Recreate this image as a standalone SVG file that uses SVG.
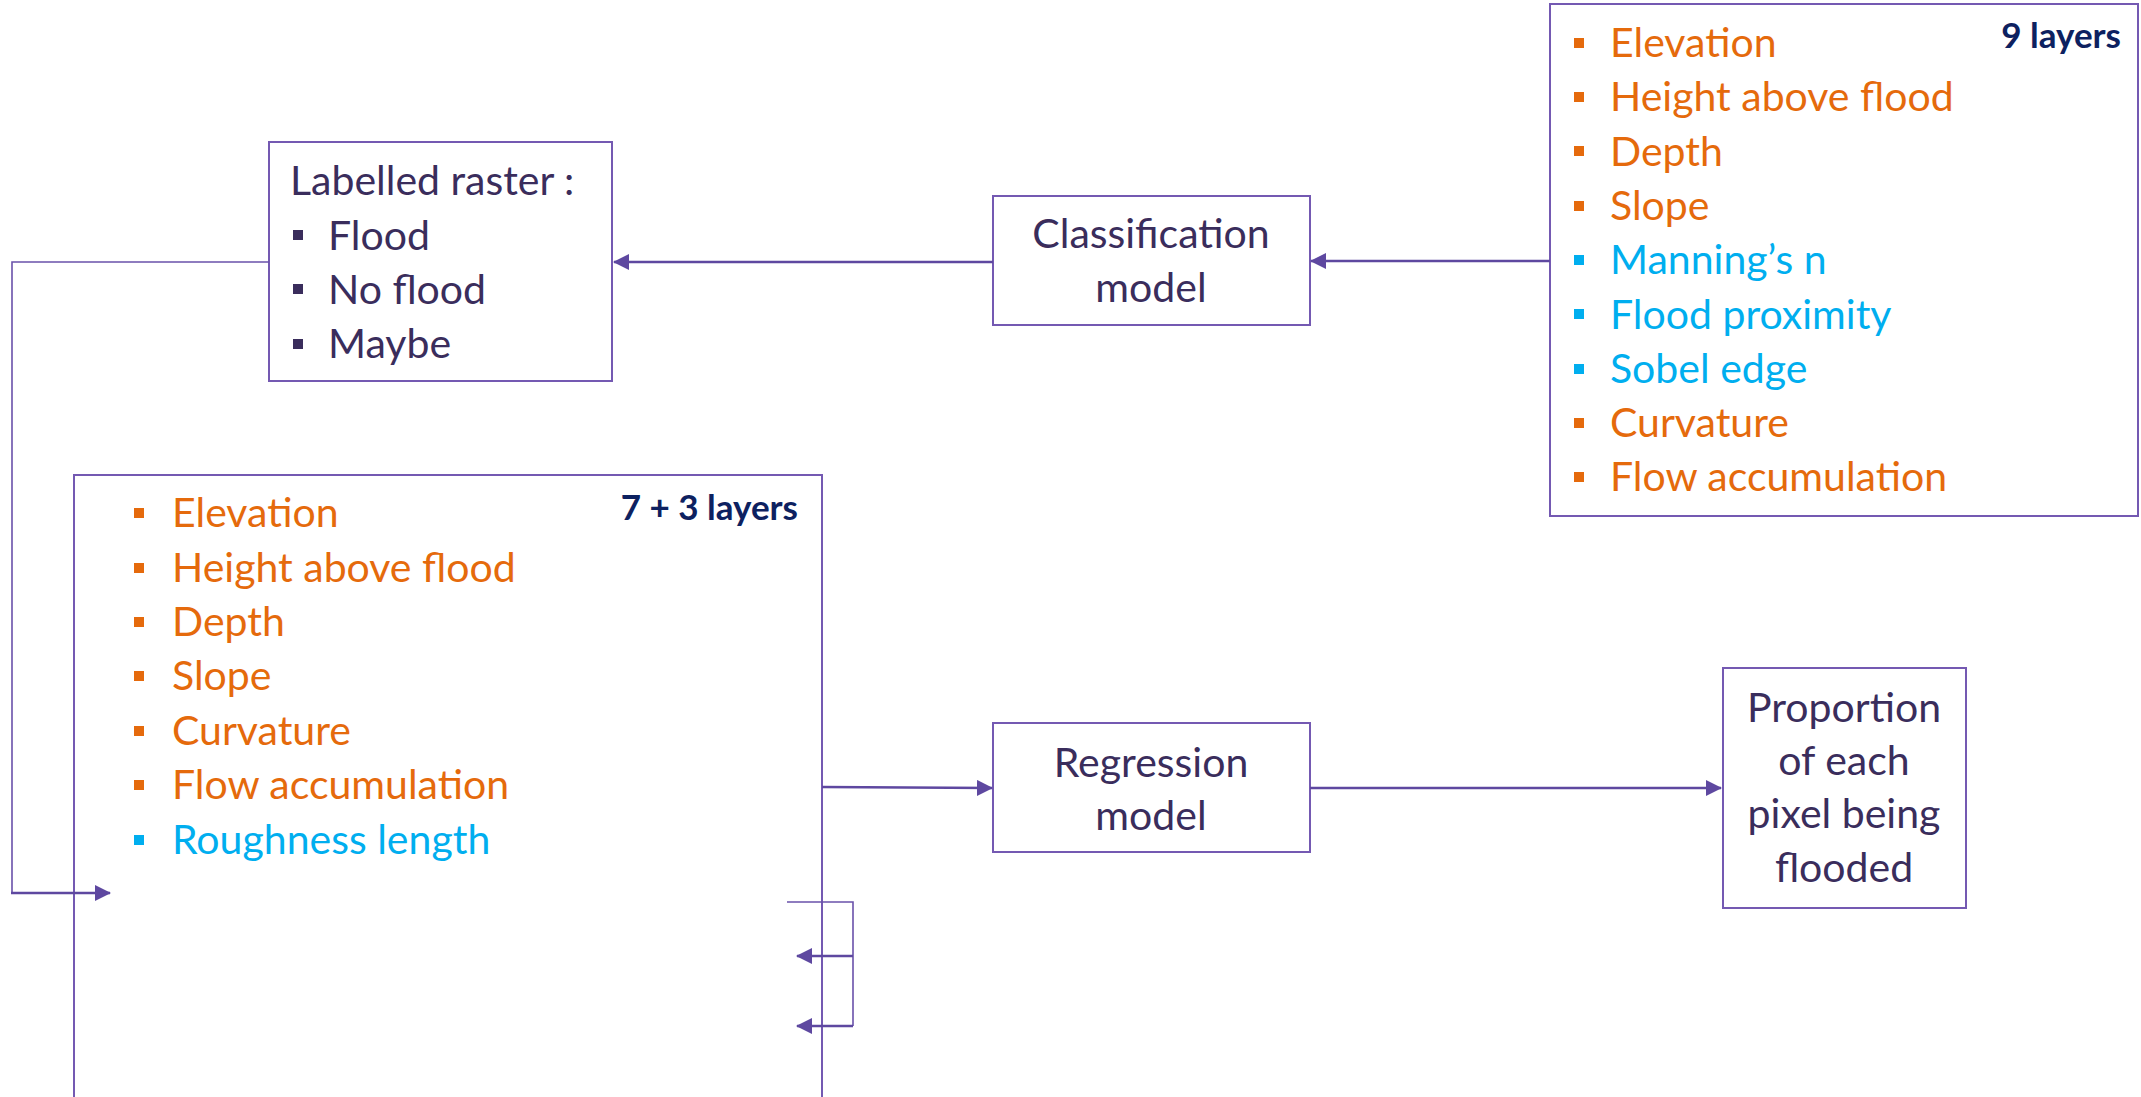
<svg xmlns="http://www.w3.org/2000/svg" width="2141" height="1097" viewBox="0 0 2141 1097">
  <style>
    .box { fill: #ffffff; stroke: #7459B2; stroke-width: 2; }
    .t { font-family: Lato, "Liberation Sans", sans-serif; font-size: 41px; fill: #3A2D5C; }
    .mid { text-anchor: middle; }
    .or { fill: #E56A0C; }
    .bl { fill: #00AEEF; }
    .dk { fill: #3A2D5C; }
    .tag { font-family: Lato, "Liberation Sans", sans-serif; font-size: 35px; font-weight: bold; fill: #0D2160; text-anchor: end; }
    .conn { fill: none; stroke: #5E48A0; stroke-width: 2.5; }
    .thin { fill: none; stroke: #6A52AA; stroke-width: 1.6; }
  </style>
  <defs>
    <marker id="arrow" viewBox="0 0 16 16" refX="15" refY="8" markerWidth="16" markerHeight="16" markerUnits="userSpaceOnUse" orient="auto">
      <path d="M0,0 L16,8 L0,16 Z" fill="#5E48A0"/>
    </marker>
  </defs>

  <!-- labelled raster -->
  <g id="labelled-raster">
    <rect class="box" x="269" y="142" width="343" height="239"/>
    <text class="t" x="290" y="195">Labelled raster :</text>
    <rect class="dk" x="293" y="230" width="10" height="10"/>
    <text class="t" x="328" y="249.5">Flood</text>
    <rect class="dk" x="293" y="284" width="10" height="10"/>
    <text class="t" x="328" y="303.7">No flood</text>
    <rect class="dk" x="293" y="339" width="10" height="10"/>
    <text class="t" x="328" y="358">Maybe</text>
  </g>

  <!-- classification model -->
  <g id="classification-model">
    <rect class="box" x="993" y="196" width="317" height="129"/>
    <text class="t mid" x="1151" y="248">Classification</text>
    <text class="t mid" x="1151" y="302">model</text>
  </g>

  <!-- nine input layers -->
  <g id="layers-9">
    <rect class="box" x="1550" y="4" width="588" height="512"/>
    <text class="tag" x="2121" y="48">9 layers</text>
    <rect class="or" x="1574" y="38" width="10" height="10"/>
    <text class="t or" x="1610" y="57">Elevation</text>
    <rect class="or" x="1574" y="92" width="10" height="10"/>
    <text class="t or" x="1610" y="111.3">Height above flood</text>
    <rect class="or" x="1574" y="146" width="10" height="10"/>
    <text class="t or" x="1610" y="165.6">Depth</text>
    <rect class="or" x="1574" y="201" width="10" height="10"/>
    <text class="t or" x="1610" y="219.9">Slope</text>
    <rect class="bl" x="1574" y="255" width="10" height="10"/>
    <text class="t bl" x="1610" y="274.2">Manning’s n</text>
    <rect class="bl" x="1574" y="309" width="10" height="10"/>
    <text class="t bl" x="1610" y="328.5">Flood proximity</text>
    <rect class="bl" x="1574" y="364" width="10" height="10"/>
    <text class="t bl" x="1610" y="382.8">Sobel edge</text>
    <rect class="or" x="1574" y="418" width="10" height="10"/>
    <text class="t or" x="1610" y="437.1">Curvature</text>
    <rect class="or" x="1574" y="472" width="10" height="10"/>
    <text class="t or" x="1610" y="491.4">Flow accumulation</text>
  </g>

  <!-- seven plus three input layers -->
  <g id="layers-7-3">
    <rect class="box" x="74" y="475" width="748" height="640"/>
    <text class="tag" x="798" y="520">7 + 3 layers</text>
    <rect class="or" x="134" y="508" width="10" height="10"/>
    <text class="t or" x="172" y="527">Elevation</text>
    <rect class="or" x="134" y="563" width="10" height="10"/>
    <text class="t or" x="172" y="582">Height above flood</text>
    <rect class="or" x="134" y="617" width="10" height="10"/>
    <text class="t or" x="172" y="636">Depth</text>
    <rect class="or" x="134" y="671" width="10" height="10"/>
    <text class="t or" x="172" y="690">Slope</text>
    <rect class="or" x="134" y="726" width="10" height="10"/>
    <text class="t or" x="172" y="745">Curvature</text>
    <rect class="or" x="134" y="780" width="10" height="10"/>
    <text class="t or" x="172" y="799">Flow accumulation</text>
    <rect class="bl" x="134" y="835" width="10" height="10"/>
    <text class="t bl" x="172" y="854">Roughness length</text>
  </g>

  <!-- regression model -->
  <g id="regression-model">
    <rect class="box" x="993" y="723" width="317" height="129"/>
    <text class="t mid" x="1151" y="777">Regression</text>
    <text class="t mid" x="1151" y="830">model</text>
  </g>

  <!-- output -->
  <g id="proportion">
    <rect class="box" x="1723" y="668" width="243" height="240"/>
    <text class="t mid" x="1844" y="722">Proportion</text>
    <text class="t mid" x="1844" y="775">of each</text>
    <text class="t mid" x="1844" y="828">pixel being</text>
    <text class="t mid" x="1844" y="882">flooded</text>
  </g>

  <!-- connectors, drawn over the boxes -->
  <g id="connectors">
    <line class="conn" x1="1550" y1="261" x2="1311" y2="261" marker-end="url(#arrow)"/>
    <line class="conn" x1="993" y1="262" x2="614" y2="262" marker-end="url(#arrow)"/>
    <polyline class="thin" points="269,262 12,262 12,893"/>
    <line class="conn" x1="11" y1="893" x2="110" y2="893" marker-end="url(#arrow)"/>
    <line class="conn" x1="822" y1="787" x2="992" y2="788" marker-end="url(#arrow)"/>
    <line class="conn" x1="1310" y1="788" x2="1721" y2="788" marker-end="url(#arrow)"/>
    <polyline class="thin" points="787,902 853,902 853,1026"/>
    <line class="conn" x1="853" y1="956" x2="797" y2="956" marker-end="url(#arrow)"/>
    <line class="conn" x1="853" y1="1026" x2="797" y2="1026" marker-end="url(#arrow)"/>
  </g>
</svg>
